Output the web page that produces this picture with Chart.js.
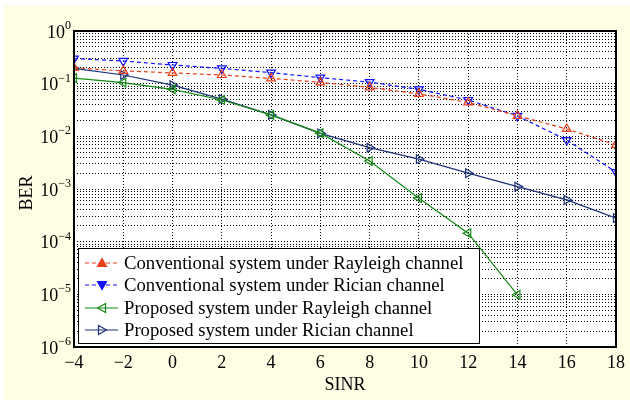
<!DOCTYPE html>
<html>
<head>
<meta charset="utf-8">
<script src="https://cdn.jsdelivr.net/npm/chart.js@4.4.1/dist/chart.umd.min.js"></script>
<style>
  html, body { margin: 0; padding: 0; background: #fff; }
  #wrap { width: 630px; height: 400px; }
</style>
</head>
<body>
<div id="wrap"><canvas id="ber" width="630" height="400"></canvas></div>
<script>
// valeurs
const sinr = [-4, -2, 0, 2, 4, 6, 8, 10, 12, 14, 16, 18];
const convRayleigh = [0.20, 0.175, 0.16, 0.146, 0.126, 0.106, 0.085, 0.064, 0.044, 0.0245, 0.0138, 0.0069];
const convRician = [0.30, 0.27, 0.226, 0.195, 0.162, 0.13, 0.107, 0.078, 0.049, 0.0245, 0.0085, 0.0021];
const propRayleigh = [0.127, 0.105, 0.078, 0.049, 0.0255, 0.0115, 0.0034, 0.00067, 0.000145, 0.0000098];
const propRician = [0.196, 0.146, 0.094, 0.051, 0.0255, 0.0114, 0.0061, 0.0037, 0.0020, 0.00111, 0.00062, 0.00028];
const legendLabels = [
    'Conventional system under Rayleigh channel',
    'Conventional system under Rician channel',
    'Proposed system under Rayleigh channel',
    'Proposed system under Rician channel'
];
const yDecades = [-6, -5, -4, -3, -2, -1, 0];

const serif = '"Liberation Serif", "Times New Roman", serif';
const colors = ['#e8401c', '#1010ff', '#138a13', '#1c3278'];
const dashes = [[4, 3], [4, 3], [], []];

function pts(ys) {
    return ys.map((v, i) => ({ x: sinr[i], y: v }));
}

function toSup(n) {
    return String(n).replace('-', '\u2212');
}

const decorPlugin = {
    id: 'decor',
    beforeDraw(chart) {
        const c = chart.ctx;
        const a = chart.chartArea;
        c.save();
        c.fillStyle = '#ffffff';
        c.fillRect(0, 0, chart.width, chart.height);
        c.fillStyle = '#fffde3';
        c.fillRect(4, 5, chart.width - 4, chart.height - 5);
        c.fillStyle = '#ffffff';
        c.fillRect(a.left, a.top, a.right - a.left, a.bottom - a.top);
        c.restore();
    },
    afterDraw(chart) {
        const c = chart.ctx;
        const a = chart.chartArea;
        const ys = chart.scales.y;
        c.save();
        // cadre
        c.strokeStyle = '#000';
        c.lineWidth = 2;
        c.strokeRect(a.left, a.top, a.right - a.left, a.bottom - a.top);

        // étiquettes 10^k
        c.fillStyle = '#000';
        c.textBaseline = 'middle';
        yDecades.forEach(k => {
            const py = ys.getPixelForValue(Math.pow(10, k)) + 2;
            const sup = toSup(k);
            c.font = '12px ' + serif;
            const sw = c.measureText(sup).width;
            c.textAlign = 'left';
            const right = 71;
            c.fillText(sup, right - sw, py - 7);
            c.font = '18px ' + serif;
            c.textAlign = 'right';
            c.fillText('10', right - sw, py);
        });

        // titres des axes
        c.font = '18px ' + serif;
        c.textAlign = 'center';
        c.fillText('SINR', (a.left + a.right) / 2, 385);
        c.save();
        c.translate(27, 193);
        c.rotate(-Math.PI / 2);
        c.fillText('BER', 0, 0);
        c.restore();

        // légende
        const lx = 78, ly = 248, lw = 401, lh = 95;
        c.fillStyle = '#fff';
        c.fillRect(lx, ly, lw, lh);
        c.strokeStyle = '#000';
        c.lineWidth = 1;
        c.strokeRect(lx + 0.5, ly + 0.5, lw, lh);
        const rows = [263, 285, 308, 330];
        chart.data.datasets.forEach((ds, i) => {
            const y = rows[i];
            c.strokeStyle = ds.borderColor;
            c.lineWidth = 1.2;
            c.setLineDash(dashes[i]);
            c.beginPath();
            c.moveTo(85, y);
            c.lineTo(118, y);
            c.stroke();
            c.setLineDash([]);
            // marqueur
            c.save();
            c.translate(102, y);
            c.rotate((ds.pointRotation || 0) * Math.PI / 180);
            c.beginPath();
            c.moveTo(0, -4.5);
            c.lineTo(4.5, 3.5);
            c.lineTo(-4.5, 3.5);
            c.closePath();
            if (i < 2) {
                c.fillStyle = ds.borderColor;
                c.fill();
            }
            c.lineWidth = 1.2;
            c.stroke();
            c.restore();
            c.fillStyle = '#000';
            c.font = '18.7px ' + serif;
            c.textAlign = 'left';
            c.fillText(legendLabels[i], 124, y + 1);
        });
        c.restore();
    }
};

function serie(i, data, rot) {
    return {
        label: legendLabels[i],
        data: pts(data),
        borderColor: colors[i],
        borderWidth: 1.2,
        segment: { borderDash: () => dashes[i] },
        pointStyle: 'triangle',
        pointRotation: rot,
        pointRadius: 5,
        pointBorderWidth: 1.2,
        pointBorderColor: colors[i],
        pointBackgroundColor: 'rgba(255,255,255,0)',
        tension: 0,
        fill: false
    };
}

const ctx = document.getElementById('ber').getContext('2d');
const berChart = new Chart(ctx, {
    type: 'line',
    data: {
        datasets: [
            serie(0, convRayleigh, 0),
            serie(1, convRician, 180),
            serie(2, propRayleigh, 270),
            serie(3, propRician, 90)
        ]
    },
    options: {
        responsive: false,
        animation: false,
        layout: { padding: { top: 31, right: 12, left: 0, bottom: 0 } },
        plugins: {
            legend: { display: false },
            tooltip: { enabled: false }
        },
        scales: {
            x: {
                type: 'linear',
                min: -4,
                max: 18,
                afterBuildTicks: scale => {
                    scale.ticks = sinr.map(v => ({ value: v }));
                },
                afterFit: scale => { scale.height = 53; },
                grid: {
                    color: '#000',
                    lineWidth: 1,
                    drawTicks: false
                },
                border: { display: false, dash: [1, 2] },
                ticks: {
                    color: '#000',
                    padding: 5,
                    font: { family: serif, size: 18 },
                    callback: v => String(v).replace('-', '\u2212')
                }
            },
            y: {
                type: 'logarithmic',
                min: 1e-6,
                max: 1,
                afterBuildTicks: scale => {
                    const t = [];
                    for (let k = -6; k < 0; k++) {
                        for (let m = 1; m <= 9; m++) t.push({ value: m * Math.pow(10, k) });
                    }
                    t.push({ value: 1 });
                    scale.ticks = t;
                },
                afterFit: scale => { scale.width = 74; },
                grid: {
                    color: '#000',
                    lineWidth: 1,
                    drawTicks: false
                },
                border: { display: false, dash: [1, 2] },
                ticks: {
                    autoSkip: false,
                    callback: () => ''
                }
            }
        }
    },
    plugins: [decorPlugin]
});
</script>
</body>
</html>
